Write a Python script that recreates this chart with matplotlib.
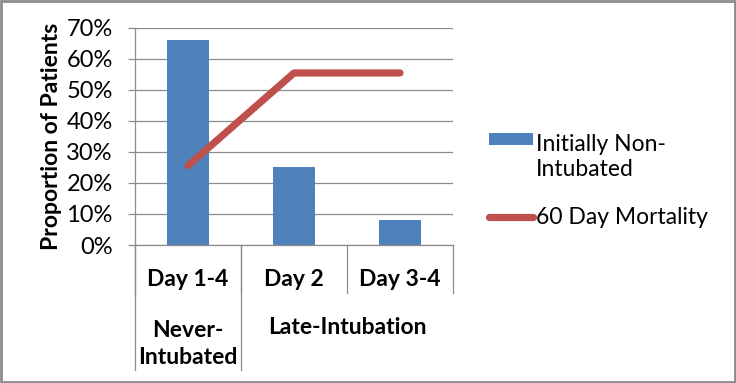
import matplotlib
matplotlib.use('Agg')
import matplotlib.pyplot as plt
from matplotlib.patches import Rectangle
from matplotlib.legend_handler import HandlerPatch
from matplotlib.transforms import blended_transform_factory

plt.rcParams['font.family'] = ['Lato', 'DejaVu Sans']

days = ['Day 1-4', 'Day 2', 'Day 3-4']
groups = ['Never-\nIntubated', 'Late-Intubation']
group_spans = [(0, 0), (1, 2)]
non_intubated = [0.66, 0.253, 0.081]
mortality = [0.256, 0.555, 0.555]
yticks = [0, 0.1, 0.2, 0.3, 0.4, 0.5, 0.6, 0.7]

blue = '#4F81BD'
red = '#C0504D'
grid_c = '#8c8c8c'
fs = 16.5


def top_patch(legend, orig_handle, xdescent, ydescent, width, height, fontsize):
    # keep the bar swatch level with the first line of a two-line label
    return Rectangle((-xdescent, -ydescent + 0.8 * fontsize), width, height)


fig = plt.figure(figsize=(7.36, 3.83), dpi=100)
ax = fig.add_axes([135/736, 1 - 245/383, 318/736, 217/383])

x = list(range(len(days)))
bars = ax.bar(x, non_intubated, width=0.39, color=blue, zorder=2)
line, = ax.plot(x, mortality, color=red, lw=5.2, solid_capstyle='round', zorder=3)

ax.set_xlim(-0.5, len(days) - 0.5)
ax.set_ylim(0, 0.7)
ax.set_yticks(yticks)
ax.set_yticklabels(['%d%%' % round(v * 100) for v in yticks], fontsize=17)
ax.yaxis.grid(True, color=grid_c, lw=0.9, zorder=0)
ax.tick_params(axis='y', length=5, color=grid_c, width=0.9, pad=11)
ax.set_ylabel('Proportion of Patients', fontsize=fs, fontweight='bold', labelpad=3)

for s in ['top', 'right']:
    ax.spines[s].set_visible(False)
ax.spines['left'].set_color(grid_c)
ax.spines['bottom'].set_color(grid_c)
ax.spines['left'].set_linewidth(0.9)
ax.spines['bottom'].set_linewidth(0.9)

# two-level category axis
ax.set_xticks([])
tr = blended_transform_factory(ax.transData, ax.transAxes)
for i, d in enumerate(days):
    ax.text(i, -0.157, d, transform=tr, ha='center', va='center',
            fontsize=fs, fontweight='bold')
for b in range(len(days) + 1):
    ax.plot([b - 0.5, b - 0.5], [0, -0.221], transform=tr, color=grid_c,
            lw=0.9, clip_on=False)
for g, (a, b) in zip(groups, group_spans):
    ax.text((a + b) / 2, -0.455 if '\n' in g else -0.378, g, transform=tr,
            ha='center', va='center', fontsize=fs, fontweight='bold',
            linespacing=1.38)
for b in [-0.5, 0.5]:
    ax.plot([b, b], [0, -0.576], transform=tr, color=grid_c, lw=0.9, clip_on=False)

bar_handle = bars.patches[0]
leg = ax.legend([bar_handle, line], ['Initially Non-\nIntubated', '60 Day Mortality'],
                loc='upper left', bbox_to_anchor=(1.049, 0.606), frameon=False,
                fontsize=fs, handlelength=1.9, handleheight=0.45,
                handletextpad=0.15, labelspacing=1.15,
                handler_map={bar_handle: HandlerPatch(patch_func=top_patch)})
for t in leg.get_texts():
    t.set_linespacing(1.25)

fig.patches.append(Rectangle((0.002, 0.003), 0.996, 0.994, transform=fig.transFigure,
                             fill=False, edgecolor='#8c8c8c', lw=2))

fig.savefig('out.png', dpi=100)
